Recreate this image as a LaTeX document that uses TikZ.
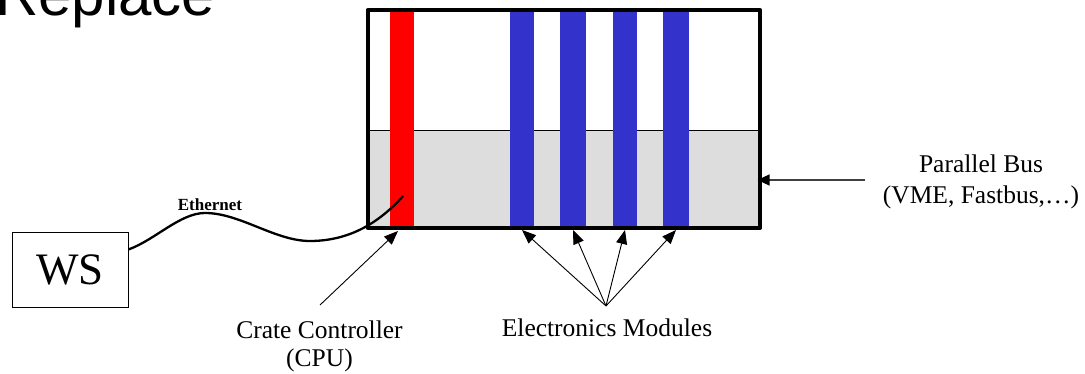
\documentclass[tikz,border=0pt]{standalone}
\usepackage{fontspec}
\setmainfont{Liberation Serif}
\newfontfamily\titlefont{Liberation Sans}
\usetikzlibrary{arrows.meta}
\definecolor{cpured}{HTML}{FF0000}
\definecolor{modblue}{HTML}{3333CC}
\definecolor{busgray}{HTML}{DDDDDD}
\begin{document}
\begin{tikzpicture}[x=1pt,y=-1pt,
  bar/.style={rectangle, inner sep=0pt, outer sep=0pt, minimum width=24pt, minimum height=220pt},
  caption/.style={inner sep=0pt, align=center, anchor=base},
  pointer/.style={-{Triangle[length=14pt,width=11pt]}, line width=0.9pt},
]
\useasboundingbox (0,0) rectangle (1085,374);

% heading (runs off the top edge)
\node[anchor=base west, inner sep=0pt, font=\titlefont\fontsize{60}{60}\selectfont] (title) at (-5,16) {Replace};

% workstation
\node[draw, line width=0.8pt, minimum width=116pt, minimum height=75pt, inner sep=0pt,
      font=\fontsize{45}{45}\selectfont] (ws) at (70,269.5) {WS};

% crate with backplane region
\node[rectangle, fill=white, inner sep=0pt, outer sep=0pt,
      minimum width=392pt, minimum height=218pt] (crate) at (563.75,119) {};
\fill[busgray] (crate.west |- 0,130) rectangle (crate.south east);
\draw[line width=0.8pt] (crate.west |- 0,130) -- (crate.east |- 0,130);

% boards
\node[bar, fill=cpured] (cpu) at (402,120) {};
\node[bar, fill=modblue] (m1) at (522,120) {};
\node[bar, fill=modblue, minimum width=26pt] (m2) at (573,120) {};
\node[bar, fill=modblue] (m3) at (625,120) {};
\node[bar, fill=modblue, minimum width=26pt] (m4) at (676,120) {};

\draw[line width=4.5pt, line join=round] (crate.south west) rectangle (crate.north east);

% network cable
\coordinate (plug) at (403,196);
\draw[line width=2.3pt] ([yshift=20pt]ws.east) .. controls (155,240) and (180,213) .. (205,213)
  .. controls (240,213) and (275,241) .. (310,241)
  .. controls (350,241) and (380,222) .. (plug);
\node[caption, font=\bfseries\fontsize{17}{17}\selectfont] (eth) at (210,211) {Ethernet};

% captions (base anchor sits on the last line)
\node[caption, font=\fontsize{25.5}{28}\selectfont] (cclabel) at (319.5,366) {Crate Controller\\(CPU)};
\node[caption, font=\fontsize{25.5}{28}\selectfont] (emlabel) at (607,337) {Electronics Modules};
\node[caption, font=\fontsize{25.5}{31}\selectfont] (buslabel) at (981,204) {Parallel Bus\\(VME, Fastbus,\ldots)};

% pointers
\coordinate (cctail) at (320,305);
\draw[pointer] (cctail) -- ([xshift=-4pt,yshift=-1pt]cpu.south);

\coordinate (emtail) at (606,306);
\foreach \m in {m1,m2,m3,m4}
  \draw[pointer] (emtail) -- (\m.south);

\coordinate (bustail) at (865,180);
\draw[-{Triangle[length=12pt,width=11pt,fill=black,color=black]}, line width=1.2pt, draw=black!75,
      shorten >=-2.25pt] (bustail) -- (bustail -| crate.east);
\end{tikzpicture}
\end{document}
